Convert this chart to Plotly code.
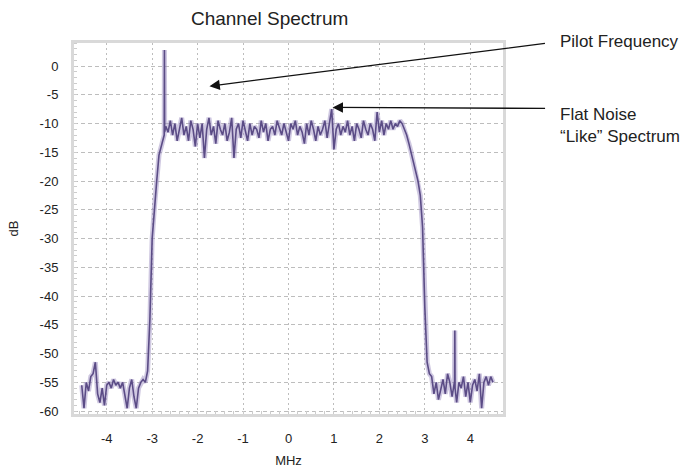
import numpy as np
import plotly.graph_objects as go

# ---- data ----
# frequency grid, MHz, 0.05 MHz step
freq_mhz = np.round(np.arange(-4.55, 4.5001, 0.05), 3)

floor_left_db = [-55.5, -59.5, -55, -56.5, -54, -53.5, -51.5, -57, -58.5, -56,
                 -59, -55.5, -55, -56, -54.5, -55.5, -55, -56, -55, -57,
                 -59.5, -56, -54.5, -57.5, -59.5, -56, -55, -54.5, -55]
rise_db = [-53, -44, -30, -24.5, -20, -15.5, -14]
passband_db = [-12.5, -10.5, -11.5, -9.5, -12, -10, -13, -11, -9, -12,
               -10.5, -13, -9.5, -11, -14, -10, -12.5, -10, -16, -11,
               -9, -12, -10.5, -13.5, -9.5, -11, -12, -10, -13, -11.5,
               -9, -16, -11, -10, -12.5, -9.5, -11, -13, -10, -12,
               -10.5, -11, -12.5, -9.5, -11.5, -10, -13, -11, -10.5, -12,
               -9.5, -11, -12, -10, -11.5, -13, -10, -11, -9.5, -12,
               -10.5, -11.5, -13.5, -10, -12, -9.5, -11, -13, -10.5, -12,
               -11, -9.5, -12.5, -10, -7.5, -14.5, -11, -10, -12, -10.5,
               -11.5, -9.5, -12, -10.5, -13, -10, -11, -12.5, -9.5, -11,
               -12, -10, -11, -13, -8, -11.5, -9.5, -12, -10, -11,
               -9.5, -11, -10, -10.5, -9.5, -10]
rolloff_db = [-11, -12, -13.5, -15, -17, -18.5, -20, -22.5, -28, -42, -51.5]
floor_right_db = [-53.5, -54, -57, -55, -58, -56, -54.5, -57, -53.5, -55,
                  -57.5, -55, -58.5, -55, -56, -54, -57.5, -55, -58.5, -55.5,
                  -54.5, -56.5, -53.5, -59.5, -55, -54, -55.5, -54, -55]
level_db = floor_left_db + rise_db + passband_db + rolloff_db + floor_right_db

# narrow spikes (pilot tone and a spur in the upper floor)
spike_mhz = [-2.735, -2.73, -2.725, 3.655, 3.66, 3.665]
spike_db = [-12, 2.8, -11.5, -55, -46, -56]

x_all = np.concatenate([freq_mhz, spike_mhz])
y_all = np.concatenate([level_db, spike_db])
order = np.argsort(x_all, kind="stable")
x_all = x_all[order]
y_all = y_all[order]

x_ticks = [-4, -3, -2, -1, 0, 1, 2, 3, 4]
x_tick_labels = ["-4", "-3", "-2", "-1", "0", "1", "2", "3", "4"]
y_ticks = [0, -5, -10, -15, -20, -25, -30, -35, -40, -45, -50, -55, -60]
y_tick_labels = ["0", "-5", "-10", "-15", "-20", "-25", "-30", "-35", "-40",
                 "-45", "-50", "-55", "-60"]

FONT = "Liberation Sans, Arial, sans-serif"

fig = go.Figure()
fig.add_trace(go.Scatter(x=x_all, y=y_all, mode="lines",
                         line=dict(color="rgba(160,145,195,0.5)", width=5),
                         hoverinfo="skip", showlegend=False))
fig.add_trace(go.Scatter(x=x_all, y=y_all, mode="lines",
                         line=dict(color="#5b4c86", width=1.6),
                         showlegend=False, name="Spectrum"))

fig.update_layout(
    width=697, height=468,
    margin=dict(l=74, r=194, t=43, b=54),
    paper_bgcolor="white", plot_bgcolor="white",
    font=dict(family=FONT, color="#222222", size=13),
    title=dict(text="Channel Spectrum", x=0.456, xref="paper", xanchor="center",
               y=1 - 18 / 468, yref="container", yanchor="middle",
               font=dict(size=19, color="#222222")),
)
fig.update_xaxes(range=[-4.72, 4.72], tickvals=x_ticks, ticktext=x_tick_labels,
                 automargin=False, showgrid=True,
                 gridcolor="#bdbdbd", griddash="2px,3px", gridwidth=1,
                 zeroline=False, showline=True, mirror=True,
                 linecolor="#d9d9d9", linewidth=3,
                 ticks="", ticklabelstandoff=10,
                 minor=dict(ticks="inside", ticklen=3, tickcolor="#cccccc", dtick=0.2),
                 title=dict(text="MHz", standoff=12, font=dict(size=13)))
fig.update_yaxes(range=[-60.5, 4], tickvals=y_ticks, ticktext=y_tick_labels,
                 automargin=False, showgrid=True,
                 gridcolor="#bdbdbd", griddash="4px,3px", gridwidth=1,
                 zeroline=False, showline=True, mirror=True,
                 linecolor="#d9d9d9", linewidth=3,
                 ticks="", ticklabelstandoff=10,
                 minor=dict(ticks="inside", ticklen=3, tickcolor="#cccccc", dtick=1),
                 title=dict(text="dB", standoff=19, font=dict(size=13)))

# arrows
fig.add_annotation(x=-1.74, y=-3.5, xref="x", yref="y", text="", showarrow=True,
                   ax=337, ay=-43, arrowhead=2, arrowsize=1.6, arrowwidth=1.3,
                   arrowcolor="#111111")
fig.add_annotation(x=0.97, y=-7.2, xref="x", yref="y", text="", showarrow=True,
                   ax=214, ay=1, arrowhead=2, arrowsize=1.6, arrowwidth=1.3,
                   arrowcolor="#111111")
# callout texts
fig.add_annotation(x=(558 - 74) / 429, y=(413 - 42) / 370, xref="paper", yref="paper",
                   text="Pilot Frequency", showarrow=False, xanchor="left",
                   yanchor="middle", align="left", font=dict(size=17, color="#222222"))
fig.add_annotation(x=(558 - 74) / 429, y=(413 - 125) / 370, xref="paper", yref="paper",
                   text="Flat Noise<br>\u201cLike\u201d Spectrum", showarrow=False,
                   xanchor="left", yanchor="middle", align="left",
                   font=dict(size=17, color="#222222"))

fig.write_html("out.html")
